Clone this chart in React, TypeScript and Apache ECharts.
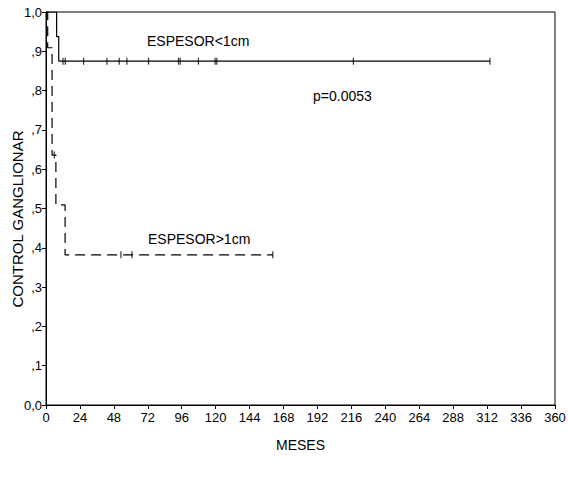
import React, { useEffect, useRef } from "react";
import * as echarts from "echarts";

// Kaplan-Meier steps: ESPESOR<1cm (solid)
const thinTimes = [0, 7.5, 9, 314];
const thinSurv = [1, 0.9375, 0.875, 0.875];
const thinCensorTimes = [12, 13.6, 26.6, 43.1, 51.8, 57.2, 72.5, 93.7, 94.9, 107.8, 119.6, 120.8, 217.4, 314];
const thinCensorSurv = 0.875;

// ESPESOR>1cm (dashed)
const thickTimes = [0, 1.2, 4.3, 7, 13.5, 160.4];
const thickSurv = [1, 0.909, 0.636, 0.509, 0.382, 0.382];
const thickCensorTimes = [5.9, 53, 60.8, 160.4];
const thickCensorSurv = [0.636, 0.382, 0.382, 0.382];

const xTicks = [0, 24, 48, 72, 96, 120, 144, 168, 192, 216, 240, 264, 288, 312, 336, 360];
const yLabels: Record<string, string> = {
  "0": "0,0", "0.1": ",1", "0.2": ",2", "0.3": ",3", "0.4": ",4", "0.5": ",5",
  "0.6": ",6", "0.7": ",7", "0.8": ",8", "0.9": ",9", "1": "1,0",
};

const FONT = "'Liberation Sans', Arial, sans-serif";

export default function App() {
  const ref = useRef<HTMLDivElement>(null);
  useEffect(() => {
    if (!ref.current) return;
    const chart = echarts.init(ref.current, undefined, { renderer: "svg" });
    const thinLine = thinTimes.map((t, i) => [t, thinSurv[i]]);
    const thickLine = thickTimes.map((t, i) => [t, thickSurv[i]]);
    const thinCens = thinCensorTimes.map((t) => [t, thinCensorSurv]);
    const thickCens = thickCensorTimes.map((t, i) => [t, thickCensorSurv[i]]);
    chart.setOption({
      animation: false,
      backgroundColor: "#ffffff",
      textStyle: { fontFamily: FONT },
      grid: {
        left: 46, right: 13, top: 12, bottom: 74,
        outerBoundsMode: "none", containLabel: false,
        show: true, borderColor: "#000", borderWidth: 1, backgroundColor: "transparent",
      },
      xAxis: {
        type: "value", min: 0, max: 360, interval: 24,
        name: "MESES", nameLocation: "middle", nameGap: 33, nameMoveOverlap: false,
        nameTextStyle: { fontSize: 14, color: "#000", fontFamily: FONT },
        axisLine: { show: true, lineStyle: { color: "#000", width: 1 } },
        axisTick: { show: true, length: 4, lineStyle: { color: "#000" } },
        axisLabel: {
          color: "#000", fontSize: 13, margin: 6, fontFamily: FONT,
          formatter: (v: number) => (xTicks.includes(v) ? String(v) : ""),
        },
        splitLine: { show: false },
      },
      yAxis: {
        type: "value", min: 0, max: 1, interval: 0.1,
        axisLine: { show: true, lineStyle: { color: "#000", width: 1 } },
        axisTick: { show: true, length: 4, lineStyle: { color: "#000" } },
        axisLabel: {
          color: "#000", fontSize: 13, margin: 4, fontFamily: FONT,
          formatter: (v: number) => yLabels[String(Math.round(v * 10) / 10)] ?? "",
        },
        splitLine: { show: false },
      },
      graphic: [
        {
          type: "text", x: 17, y: 219, rotation: Math.PI / 2,
          style: { text: "CONTROL GANGLIONAR", font: `15px ${FONT}`, fill: "#000", align: "center", verticalAlign: "middle" },
        },
        { type: "text", left: 147, top: 34, style: { text: "ESPESOR<1cm", font: `14px ${FONT}`, fill: "#000" } },
        { type: "text", left: 313, top: 89, style: { text: "p=0.0053", font: `14px ${FONT}`, fill: "#000" } },
        { type: "text", left: 148, top: 232, style: { text: "ESPESOR>1cm", font: `14px ${FONT}`, fill: "#000" } },
      ],
      series: [
        {
          type: "line", step: "end", data: thinLine, symbol: "none",
          lineStyle: { color: "#000", width: 1.2 },
        },
        {
          type: "line", step: "end", data: thickLine, symbol: "none",
          lineStyle: { color: "#000", width: 1.2, type: [10, 6] },
        },
        {
          type: "scatter", data: thinCens, symbol: "rect", symbolSize: [1.2, 7],
          itemStyle: { color: "#000" },
        },
        {
          type: "scatter", data: thickCens, symbol: "rect", symbolSize: [1.2, 7],
          itemStyle: { color: "#000" },
        },
      ],
    });
    return () => chart.dispose();
  }, []);
  return (
    <div
      ref={ref}
      style={{ position: "absolute", left: 0, top: 0, width: 568, height: 479, background: "#fff" }}
    />
  );
}
